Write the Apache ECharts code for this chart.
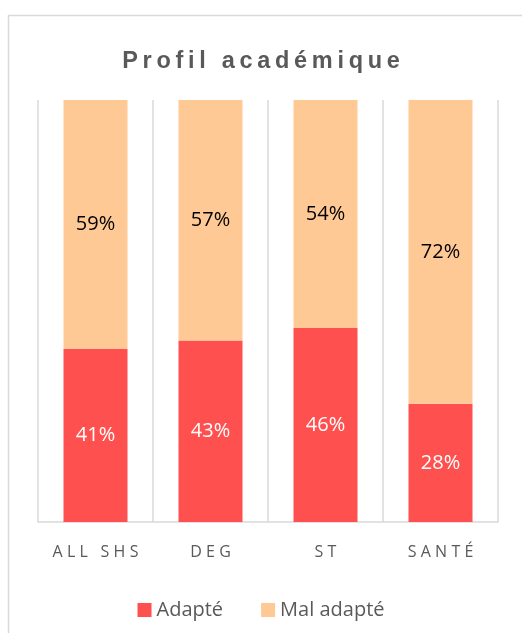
<!DOCTYPE html>
<html>
<head>
<meta charset="utf-8">
<script src="https://cdn.jsdelivr.net/npm/echarts@6/dist/echarts.min.js"></script>
<style>
  html, body { margin: 0; padding: 0; background: #fff; }
  #chart { width: 522px; height: 633px; }
</style>
</head>
<body>
<div id="chart"></div>
<script>
// données
var categories = ["ALL SHS", "DEG", "ST", "SANTÉ"];
var adapte = [41, 43, 46, 28];
var malAdapte = [59, 57, 54, 72];
var seriesNames = ["Adapté", "Mal adapté"];

// espacement des lettres (pas de letterSpacing dans le canvas echarts)
function spaced(s, sep) {
    return s.split("").join(sep);
}

var dom = document.getElementById("chart");
var myChart = echarts.init(dom, null, {renderer: "canvas"});

var option = {
    animation: false,
    title: {
        text: spaced("Profil académique", "\u2009"),
        left: "center",
        top: 45,
        textStyle: {
            fontFamily: "Liberation Sans",
            fontSize: 23.5,
            fontWeight: "bold",
            color: "#595959"
        }
    },
    graphic: [
        {
            type: "rect",
            shape: {x: 8.5, y: 15.5, width: 700, height: 800},
            style: {fill: "none", stroke: "#d9d9d9", lineWidth: 1.5},
            silent: true
        }
    ],
    legend: {
        bottom: 8,
        left: "center",
        itemWidth: 14,
        itemHeight: 14,
        itemGap: 38,
        icon: "rect",
        textStyle: {
            fontFamily: "Open Sans",
            fontSize: 20,
            color: "#595959"
        },
        data: seriesNames
    },
    grid: {
        left: 38,
        right: 24,
        top: 100,
        bottom: 111,
        containLabel: false
    },
    xAxis: {
        type: "category",
        data: categories,
        boundaryGap: true,
        axisLine: {lineStyle: {color: "#d9d9d9", width: 1.5}},
        axisTick: {show: false},
        splitLine: {show: true, lineStyle: {color: "#d9d9d9", width: 1.5}},
        axisLabel: {
            margin: 22,
            fontFamily: "Open Sans",
            fontSize: 16,
            color: "#595959",
            formatter: function (v) { return spaced(v, "\u2009\u200A"); }
        }
    },
    yAxis: {
        type: "value",
        min: 0,
        max: 100,
        show: false,
        splitLine: {show: false}
    },
    series: [
        {
            name: seriesNames[0],
            type: "bar",
            stack: "total",
            barWidth: 64,
            data: adapte,
            itemStyle: {color: "#ff5050"},
            label: {
                show: true,
                position: "inside",
                formatter: "{c}%",
                fontFamily: "Open Sans",
                fontSize: 20,
                color: "#ffffff"
            }
        },
        {
            name: seriesNames[1],
            type: "bar",
            stack: "total",
            barWidth: 64,
            data: malAdapte,
            itemStyle: {color: "#ffc996"},
            label: {
                show: true,
                position: "inside",
                formatter: "{c}%",
                fontFamily: "Open Sans",
                fontSize: 20,
                color: "#000000"
            }
        }
    ]
};

myChart.setOption(option);
</script>
</body>
</html>
